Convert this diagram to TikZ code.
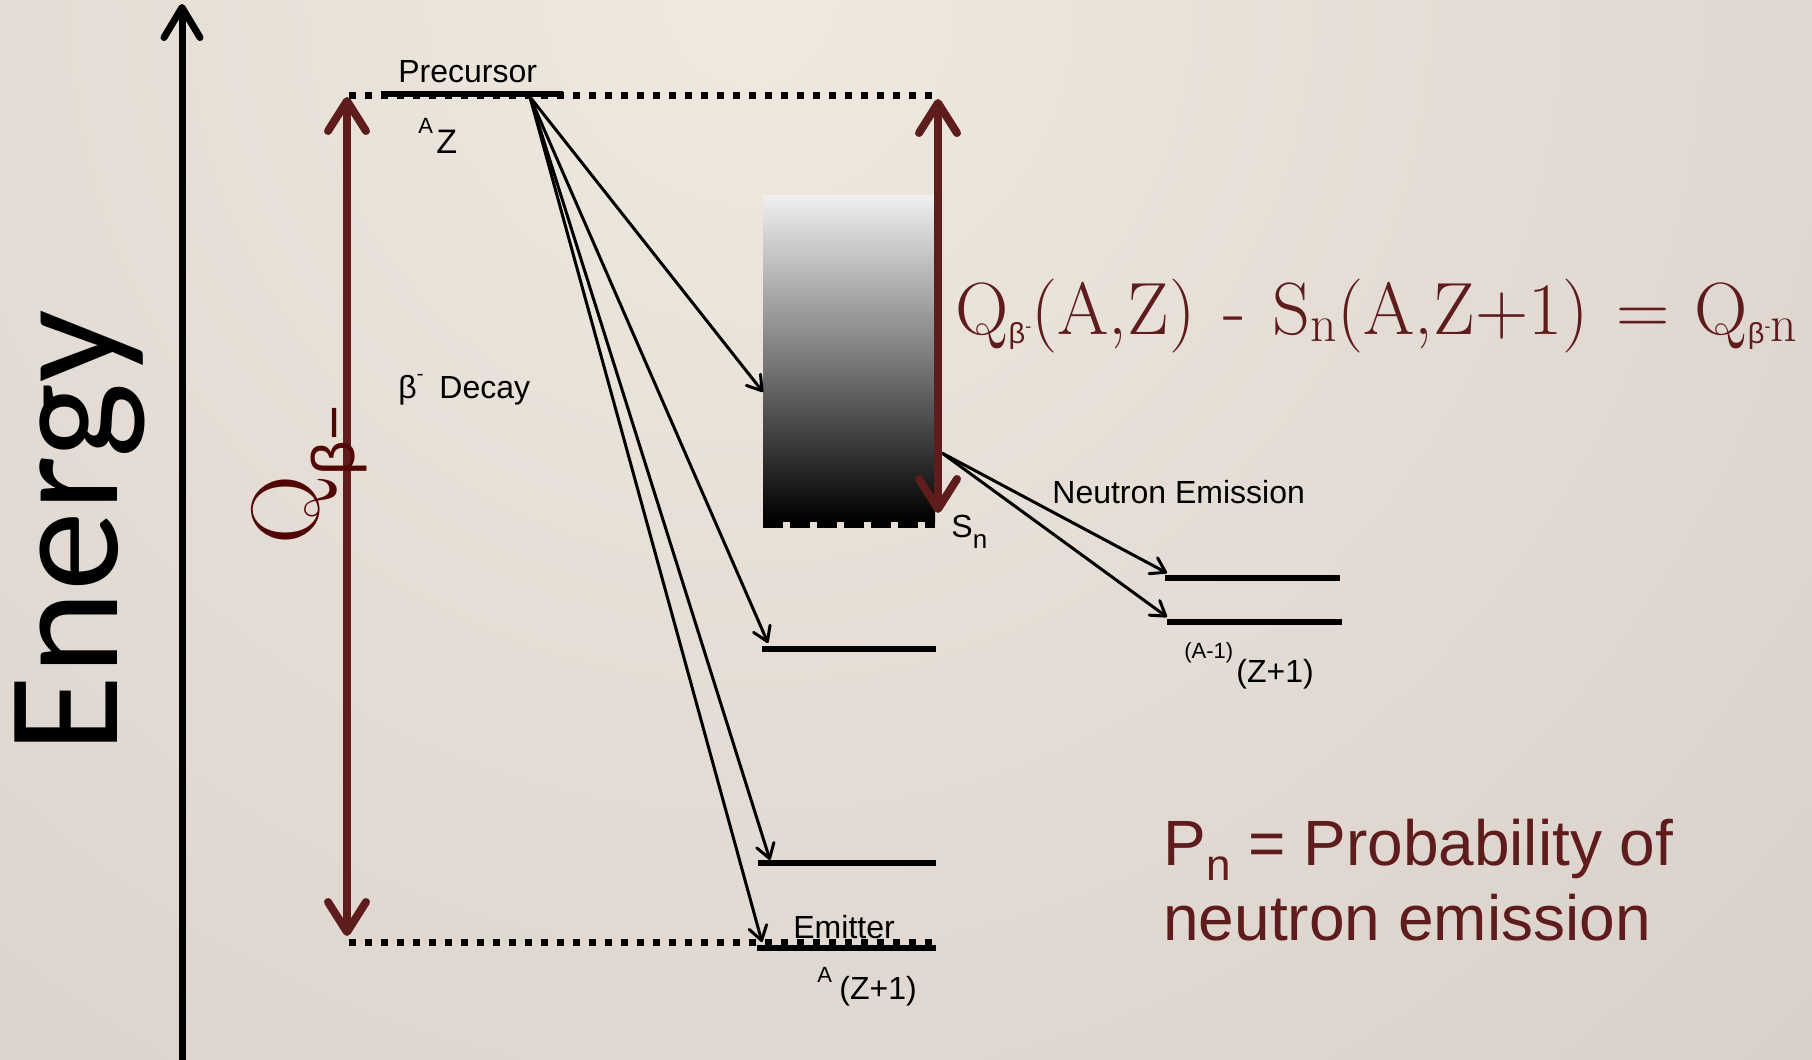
\documentclass[tikz,border=0pt]{standalone}
\usepackage{fontspec}
\usetikzlibrary{arrows.meta}
\newfontfamily\lsans{Liberation Sans}
\newfontfamily\calib{Carlito}
\definecolor{bgA}{HTML}{F0E9DF}
\definecolor{bgB}{HTML}{D8D0CA}
\definecolor{bgC}{HTML}{C0B7B2}
\definecolor{bgD}{HTML}{ABA29F}
\definecolor{bgE}{HTML}{A29996}
\definecolor{qred}{HTML}{5E1C1C}
\definecolor{qdark}{HTML}{520606}
\pgfdeclareradialshading{bgshade}{\pgfpoint{0bp}{0bp}}{color(0bp)=(bgA); color(24bp)=(bgB); color(34bp)=(bgC); color(42bp)=(bgD); color(50bp)=(bgE)}
\newcommand{\betamin}{\raisebox{-4.5pt}{\lsans\fontsize{14.5}{14.5}\selectfont β\raisebox{5.5pt}{\fontsize{9}{9}\selectfont -}}}
\begin{document}
\begin{tikzpicture}[x=0.5pt,y=-0.5pt,
  lvl/.style={line width=3pt},
  dotline/.style={line width=3.5pt, dash pattern=on 3.5pt off 4.5pt},
  trans/.style={line width=1.5pt, -{Straight Barb[length=7pt,width=9pt,round]}},
  qarrow/.style={draw=qred, line width=4pt, {Straight Barb[length=15pt,width=19pt,round]}-{Straight Barb[length=15pt,width=19pt,round]}},
  lbl/.style={font=\lsans\fontsize{16}{19}\selectfont, inner sep=0pt, anchor=base west},
  smalllbl/.style={font=\lsans\fontsize{11}{13}\selectfont, inner sep=0pt, anchor=base west},
  bigred/.style={font=\lsans\fontsize{32}{38}\selectfont, text=qred, inner sep=0pt, anchor=base west}
]
\useasboundingbox (0,0) rectangle (1812,1060);
\begin{scope}
\clip (0,0) rectangle (1812,1060);
\shade[shading=bgshade] (-800,-1550) rectangle (2300,1550);
\end{scope}

% energy axis
\coordinate (ebot) at (182,1060);
\coordinate (etop) at (182,4);
\draw[line width=3.5pt, -{Straight Barb[length=15pt,width=18pt,round]}] (ebot) -- (etop);
\node[rotate=90, anchor=base west, inner sep=0pt, font=\calib\fontsize{80}{80}\selectfont] (energy) at (117,754) {Energy};

% key coordinates
\coordinate (pL) at (349,95);
\coordinate (pR) at (934,95);
\coordinate (pbarL) at (381,94);
\coordinate (pbarR) at (563,94);
\coordinate (src) at (530,97);
\coordinate (eL) at (349,942);
\coordinate (eR) at (934,942);
\coordinate (emL) at (757,948);
\coordinate (emR) at (936,948);
\coordinate (l1L) at (762,649);
\coordinate (l1R) at (936,649);
\coordinate (l2L) at (758,863);
\coordinate (l2R) at (936,863);
\coordinate (n1L) at (1165,578);
\coordinate (n1R) at (1340,578);
\coordinate (n2L) at (1167,622);
\coordinate (n2R) at (1342,622);
\coordinate (boxin) at (763,392);
\coordinate (boxout) at (942,453);
\coordinate (sbL) at (763,524);
\coordinate (sbR) at (935,524);

% gradient box
\shade[top color=black!6, bottom color=black, middle color=black!52] (763,195) rectangle (935,521);
\draw[line width=3.5pt, dash pattern=on 10pt off 3.5pt] (sbL) -- (sbR);

% levels
\draw[dotline] (pL) -- (pR);
\draw[line width=3pt] (pbarL) -- (pbarR);
\draw[dotline] (eL) -- (eR);
\draw[lvl] (emL) -- (emR);
\draw[lvl] (l1L) -- (l1R);
\draw[lvl] (l2L) -- (l2R);
\draw[lvl] (n1L) -- (n1R);
\draw[lvl] (n2L) -- (n2R);

% transitions
\draw[trans] (src) -- (boxin);
\draw[trans] (src) -- (768,643) coordinate (t1);
\draw[trans] (src) -- (770,860) coordinate (t2);
\draw[trans] (src) -- (762,942) coordinate (t3);
\draw[trans] (boxout) -- (1167,573) coordinate (t4);
\draw[trans] (boxout) -- (1167,617) coordinate (t5);

% Q arrows
\coordinate (qlt) at (347,97);
\coordinate (qlb) at (347,936);
\coordinate (qrt) at (938,99);
\coordinate (qrb) at (938,513);
\draw[qarrow] (qlt) -- (qlb);
\draw[qarrow] (qrt) -- (qrb);

% labels
\node[lbl] (prec) at (398,83) {Precursor};
\node[smalllbl] (azA) at (418,133) {A};
\node[lbl, font=\lsans\fontsize{17}{19}\selectfont] (azZ) at (436,153) {Z};
\node[lbl] (decay) at (398,398) {β\raisebox{9pt}{\fontsize{10}{10}\selectfont -}\hspace{8pt}Decay};
\node[lbl] (emit) at (793,938) {Emitter};
\node[smalllbl] (emA) at (817,982) {A};
\node[lbl] (emZ) at (839,999) {(Z+1)};
\node[lbl] (sn) at (951,537) {S\raisebox{-5.5pt}{\fontsize{13}{13}\selectfont n}};
\node[lbl] (nem) at (1052,503) {Neutron Emission};
\node[smalllbl] (dA) at (1184,658) {(A-1)};
\node[lbl] (dZ) at (1236,682) {(Z+1)};
\node[bigred] (pn1) at (1163,865) {P\raisebox{-7.5pt}{\fontsize{22}{22}\selectfont n} = Probability of};
\node[bigred] (pn2) at (1163,940) {neutron emission};

\node[inner sep=0pt, anchor=base west, text=qred, font=\fontsize{37}{43}\selectfont] (eq) at (955,334)
  {Q\betamin(A,Z)\hspace{3pt} - \hspace{2pt}S\textsubscript{n}(A,Z+1)\hspace{3pt} = \hspace{1pt}Q\betamin\textsubscript{n}};

\node[rotate=90, anchor=base west, inner sep=0pt, text=qdark] (qlabel) at (318,545)
  {\fontsize{48}{48}\selectfont Q\raisebox{-18pt}{\lsans\fontsize{30}{30}\selectfont β−}};
\end{tikzpicture}
\end{document}
